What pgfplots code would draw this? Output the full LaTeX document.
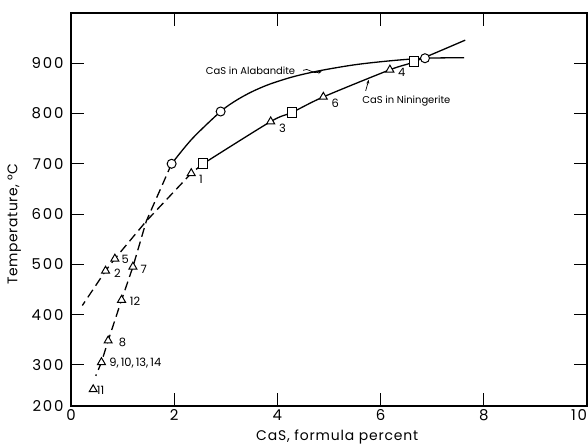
\documentclass[border=0pt]{standalone}
\usepackage{fontspec}
\setmainfont{Poppins}
\usepackage{pgfplots}
\pgfplotsset{compat=1.18}
\usetikzlibrary{arrows.meta}

\begin{document}
\begin{tikzpicture}
\begin{axis}[
  name=ax,
  scale only axis,
  width=516bp, height=393bp,
  xmin=0, xmax=10, ymin=218, ymax=1000,
  xtick={0,2,4,6,8,10},
  xticklabels={0,2,4,6,8,\makebox[0pt][r]{10}},
  ytick={218,300,400,500,600,700,800,900},
  yticklabels={200,300,400,500,600,700,800,900},
  tick align=inside,
  major tick length=13bp,
  axis line style={line width=1.1bp},
  every tick/.style={black, line width=1bp},
  tick label style={font=\fontsize{15}{17}\selectfont\addfontfeature{LetterSpace=12}},
  yticklabel style={xshift=-4bp},
  /pgf/number format/assume math mode=true,
  clip=false,
]
% CaS in alabandite, solid part
\addplot[black, line width=1.3bp, smooth, tension=0.5] coordinates {
  (1.95,700) (2.35,750) (2.90,804) (3.20,826) (3.50,843) (3.84,858)
  (4.30,873) (4.81,885) (5.50,897) (6.20,905) (6.86,910) (7.62,911)};
% CaS in alabandite, dashed part
\addplot[black, line width=1.3bp, dash pattern=on 9bp off 5bp] coordinates {
  (1.95,700) (1.46,586) (1.20,495) (0.98,429) (0.72,348) (0.59,305) (0.48,278)};
% CaS in niningerite, solid part
\addplot[black, line width=1.3bp, smooth, tension=0.5] coordinates {
  (2.56,700) (3.87,784) (4.28,802) (4.89,833) (6.18,887) (6.65,903) (7.64,946)};
% CaS in niningerite, dashed part
\addplot[black, line width=1.3bp, dash pattern=on 9bp off 5bp] coordinates {
  (2.56,700) (2.33,681) (1.46,586) (0.85,511) (0.67,487) (0.22,418)};

% data points
\addplot[only marks, mark=*, mark size=4.5bp,
  mark options={draw=black, fill=white, line width=1bp}] coordinates {
  (1.95,700) (2.90,804) (6.86,910)};
\addplot[only marks, mark=square*, mark size=4.8bp,
  mark options={draw=black, fill=white, line width=1bp}] coordinates {
  (2.56,700) (4.28,802) (6.65,903)};
\addplot[only marks, mark=triangle*, mark size=4.6bp,
  mark options={draw=black, fill=white, line width=1bp}] coordinates {
  (2.33,681) (3.87,784) (4.89,833) (6.18,887)
  (0.85,511) (0.67,487) (1.20,495) (0.98,429)
  (0.72,348) (0.59,305) (0.43,251)};

% sample numbers
\begin{scope}[every node/.style={font=\fontsize{11.5}{13}\selectfont, inner sep=0pt}]
\node at (axis cs:2.52,669) {1};
\node at (axis cs:4.10,771) {3};
\node at (axis cs:5.12,821) {6};
\node at (axis cs:6.41,882) {4};
\node at (axis cs:1.05,509) {5};
\node at (axis cs:0.90,482) {2};
\node at (axis cs:1.41,490) {7};
\node at (axis cs:1.24,427) {12};
\node at (axis cs:1.00,345) {8};
\node[anchor=west] at (axis cs:0.74,304) {9,\,10,\,13,\,14};
\node[anchor=west] at (axis cs:0.50,249) {11};
\end{scope}

% curve names
\node[font=\fontsize{10}{12}\selectfont, inner sep=0pt] at (axis cs:3.48,885) {CaS in Alabandite};
\draw[line width=0.7bp, -{Stealth[length=4bp]}] (axis cs:4.50,886)
  .. controls (axis cs:4.60,893) and (axis cs:4.66,877) .. (axis cs:4.86,884);
\node[font=\fontsize{10}{12}\selectfont, inner sep=0pt] at (axis cs:6.50,825) {CaS in Niningerite};
\draw[line width=0.7bp, -{Stealth[length=4bp]}] (axis cs:5.71,845)
  .. controls (axis cs:5.74,855) .. (axis cs:5.77,867);

% axis titles
\node[font=\fontsize{14}{16}\selectfont\addfontfeature{LetterSpace=6}] at (rel axis cs:0.516,-0.079) {CaS, formula percent};
\node[font=\fontsize{14}{16}\selectfont\addfontfeature{LetterSpace=4}, rotate=90] at (rel axis cs:-0.110,0.463) {Temperature, °C};
\end{axis}
\pgfresetboundingbox
\path[use as bounding box] ([xshift=-71bp,yshift=-39bp]ax.south west)
  rectangle ([xshift=1bp,yshift=13bp]ax.north east);
\end{tikzpicture}
\end{document}
